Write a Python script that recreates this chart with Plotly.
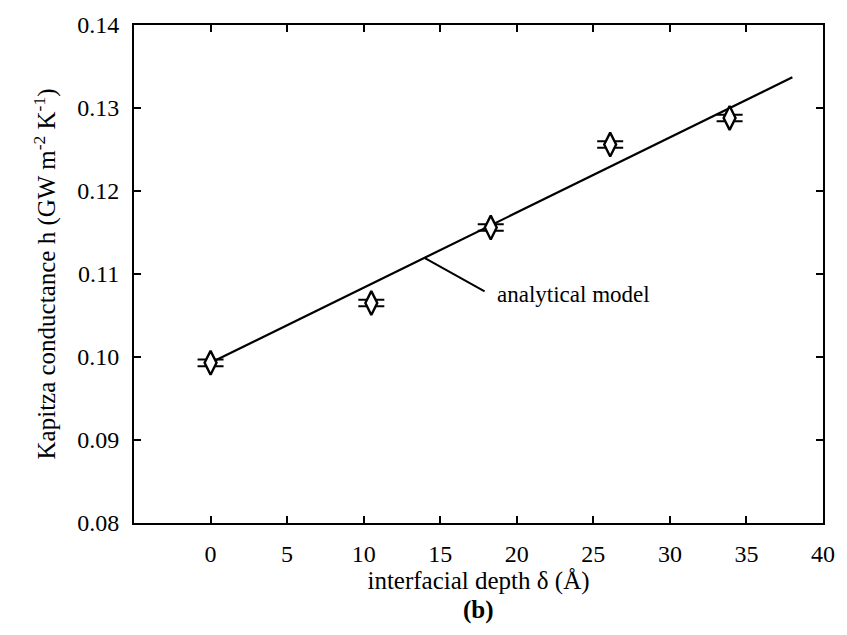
import plotly.graph_objects as go

# data
depth = [0.0, 10.5, 18.3, 26.1, 33.9]
conductance = [0.0993, 0.1065, 0.1156, 0.1256, 0.1288]
err = [0.0004, 0.0004, 0.0004, 0.0004, 0.0004]

model_x = [0.0, 38.0]
model_y = [0.0993, 0.1337]

x_ticks = [0, 5, 10, 15, 20, 25, 30, 35, 40]
y_ticks = [0.08, 0.09, 0.10, 0.11, 0.12, 0.13, 0.14]
y_tick_text = ["0.08", "0.09", "0.10", "0.11", "0.12", "0.13", "0.14"]

FONT = "Liberation Serif, Times New Roman, serif"

fig = go.Figure()
fig.add_trace(go.Scatter(
    x=model_x, y=model_y, mode="lines",
    line=dict(color="black", width=2.2), showlegend=False, hoverinfo="skip"))
fig.add_trace(go.Scatter(
    x=depth, y=conductance, mode="markers",
    error_y=dict(type="data", array=err, color="black", thickness=2, width=13),
    marker=dict(symbol="diamond-tall", size=17, color="white",
                line=dict(color="black", width=2.4)),
    showlegend=False))

# annotation leader line
fig.add_trace(go.Scatter(
    x=[14.0, 17.9], y=[0.1119, 0.1079], mode="lines",
    line=dict(color="black", width=2), showlegend=False, hoverinfo="skip"))

fig.add_annotation(x=18.6, y=0.1075, text="analytical model", showarrow=False,
                   xanchor="left", yanchor="middle",
                   font=dict(family=FONT, size=23, color="black"))

fig.add_annotation(x=0.5, y=-0.175, xref="paper", yref="paper",
                   text="<b>(b)</b>", showarrow=False, xanchor="center", yanchor="middle",
                   font=dict(family=FONT, size=25, color="black"))

axis_common = dict(showline=True, linecolor="black", linewidth=2, mirror="ticks",
                   ticks="inside", ticklen=7, tickwidth=2, tickcolor="black",
                   showgrid=False, zeroline=False,
                   tickfont=dict(family=FONT, size=24, color="black"))

fig.update_xaxes(range=[-5, 40], tickvals=x_ticks,
                 title=dict(text="interfacial depth δ (Å)", standoff=3,
                            font=dict(family=FONT, size=25, color="black")),
                 ticklabelstandoff=8,
                 **axis_common)
fig.update_yaxes(range=[0.08, 0.14], tickvals=y_ticks, ticktext=y_tick_text,
                 title=dict(text="Kapitza conductance h (GW m<sup>-2</sup> K<sup>-1</sup>)",
                            standoff=14,
                            font=dict(family=FONT, size=25, color="black")),
                 ticklabelstandoff=8,
                 **axis_common)

fig.update_layout(width=847, height=635, margin=dict(l=134, r=13, t=15, b=112),
                  paper_bgcolor="white", plot_bgcolor="white")

fig.write_html("out.html")
